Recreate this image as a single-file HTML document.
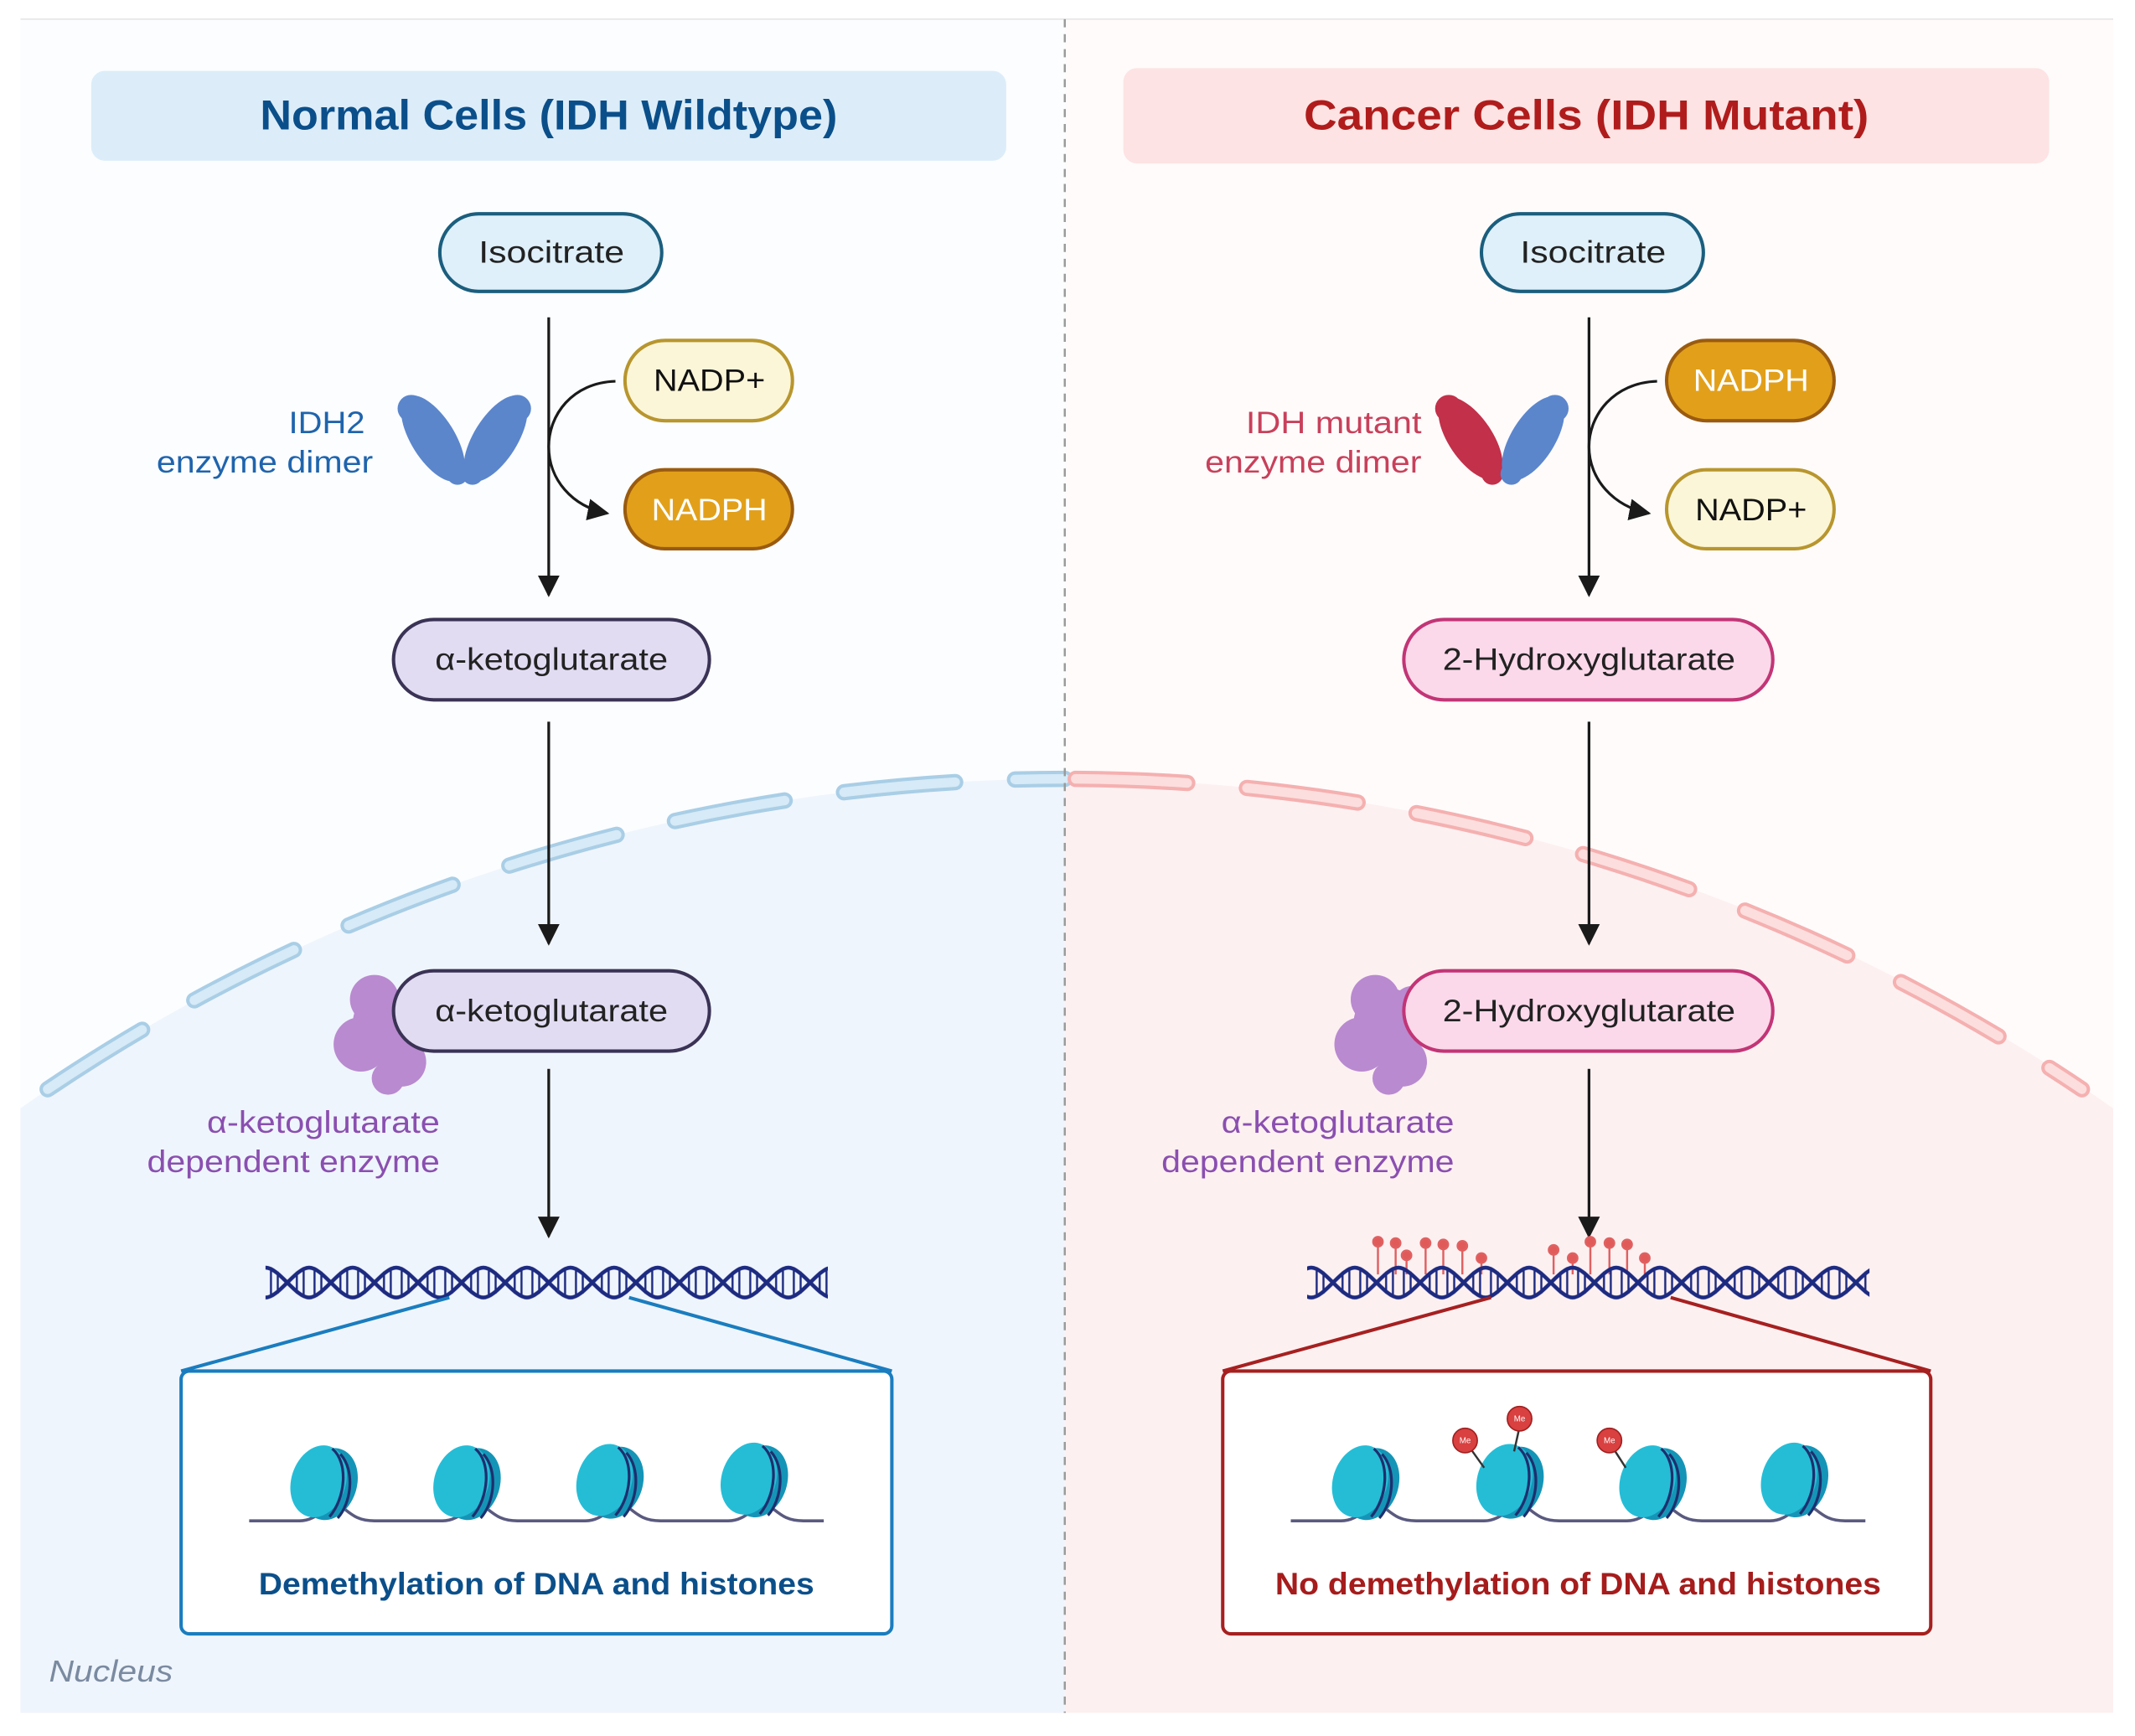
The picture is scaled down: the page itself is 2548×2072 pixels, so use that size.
<!DOCTYPE html>
<html><head><meta charset="utf-8"><style>html,body{margin:0;padding:0;background:#fff}svg{display:block}</style></head>
<body>
<svg width="2548" height="2072" viewBox="0 0 1568 1275" xmlns="http://www.w3.org/2000/svg" font-family="'Liberation Sans', sans-serif">
<defs>
<marker id="ah2" viewBox="0 0 10 10" refX="9" refY="5" markerWidth="16" markerHeight="16" markerUnits="userSpaceOnUse" orient="auto"><path d="M0,0 L10,5 L0,10 Z" fill="#1a1a1a"/></marker>
<pattern id="dna" patternUnits="userSpaceOnUse" x="195" y="927" width="64" height="30">
<g stroke="#1c2a80" fill="none">
<path d="M0,4 C10,4 22,26 32,26 C42,26 54,4 64,4" stroke-width="2.8"/>
<path d="M0,26 C10,26 22,4 32,4 C42,4 54,26 64,26" stroke-width="2.8"/>
<path d="M4,6 V24 M9,7 V23 M55,7 V23 M60,6 V24 M23,7 V23 M28,6 V24 M36,6 V24 M41,7 V23" stroke-width="1.5"/>
</g></pattern>
<g id="nuc">
<ellipse cx="8" cy="2" rx="20" ry="27" transform="rotate(18 8 2)" fill="#1495b7"/>
<ellipse cx="0" cy="0" rx="20" ry="27" transform="rotate(18 0 0)" fill="#25bdd6"/>
<path d="M10,-24 C22,-14 20,12 8,26" stroke="#1e2f6e" stroke-width="2" fill="none"/>
<path d="M16,-20 C27,-8 24,16 14,27" stroke="#1e2f6e" stroke-width="2" fill="none"/>
</g>
<g id="purp" fill="#b98ad0">
<circle cx="0" cy="0" r="26"/><circle cx="-20" cy="15" r="20"/><circle cx="10" cy="28" r="18"/><circle cx="-10" cy="-18" r="18"/><circle cx="18" cy="-12" r="16"/><circle cx="0" cy="40" r="12"/>
</g>
</defs>

<rect width="1568" height="1275" fill="#fff"/>
<rect x="15" y="14" width="767" height="1244" fill="#fbfdff"/>
<rect x="782" y="14" width="770" height="1244" fill="#fffbfb"/>
<line x1="15" y1="14" x2="1552" y2="14" stroke="#e6e6e6" stroke-width="1"/>
<path d="M15,1258 L15,814 A1338,1338 0 0 1 782,572 L782,1258 Z" fill="#eff5fc"/>
<path d="M782,572 A1338,1338 0 0 1 1552,814 L1552,1258 L782,1258 Z" fill="#fdf0f1"/>

<path d="M35,800 A1338,1338 0 0 1 782,572" fill="none" stroke="#a9cee6" stroke-width="12" stroke-dasharray="82 44" stroke-linecap="round"/>
<path d="M35,800 A1338,1338 0 0 1 782,572" fill="none" stroke="#d6eaf7" stroke-width="7" stroke-dasharray="82 44" stroke-linecap="round"/>
<path d="M782,572 A1338,1338 0 0 1 1529,800" fill="none" stroke="#f5b0b0" stroke-width="12" stroke-dasharray="82 44" stroke-dashoffset="-8" stroke-linecap="round"/>
<path d="M782,572 A1338,1338 0 0 1 1529,800" fill="none" stroke="#fcdede" stroke-width="7" stroke-dasharray="82 44" stroke-dashoffset="-8" stroke-linecap="round"/>

<line x1="782" y1="14" x2="782" y2="1258" stroke="#9a9a9a" stroke-width="1.5" stroke-dasharray="6 5"/>

<rect x="67" y="52" width="672" height="66" rx="10" fill="#dcedf9"/>
<text x="403" y="95" text-anchor="middle" font-size="31" font-weight="bold" fill="#0b4f8a" textLength="424" lengthAdjust="spacingAndGlyphs">Normal Cells (IDH Wildtype)</text>
<rect x="825" y="50" width="680" height="70" rx="10" fill="#fde3e3"/>
<text x="1165" y="95" text-anchor="middle" font-size="31" font-weight="bold" fill="#b01c1c" textLength="415" lengthAdjust="spacingAndGlyphs">Cancer Cells (IDH Mutant)</text>

<!-- LEFT -->
<rect x="323" y="157" width="163" height="57" rx="28.5" fill="#dff0fa" stroke="#1b5e7e" stroke-width="2.5"/>
<text x="405" y="193" text-anchor="middle" font-size="23" fill="#222" textLength="107" lengthAdjust="spacingAndGlyphs">Isocitrate</text>
<line x1="403" y1="233" x2="403" y2="437" stroke="#1a1a1a" stroke-width="2" marker-end="url(#ah2)"/>
<rect x="459" y="250" width="123" height="59" rx="29.5" fill="#fcf6d8" stroke="#b8962e" stroke-width="2.5"/>
<text x="521" y="287" text-anchor="middle" font-size="23" fill="#111" textLength="82" lengthAdjust="spacingAndGlyphs">NADP+</text>
<rect x="459" y="345" width="123" height="58" rx="29" fill="#e2a01a" stroke="#9a5b10" stroke-width="2.5"/>
<text x="521" y="382" text-anchor="middle" font-size="23" fill="#fff" textLength="85" lengthAdjust="spacingAndGlyphs">NADPH</text>
<path d="M452,280 C420,281 403,305 403,328 C403,352 420,372 446,377" fill="none" stroke="#1a1a1a" stroke-width="2" marker-end="url(#ah2)"/>
<text x="268" y="318" text-anchor="end" font-size="23" fill="#1f64ad" textLength="56" lengthAdjust="spacingAndGlyphs">IDH2</text>
<text x="274" y="347" text-anchor="end" font-size="23" fill="#1f64ad" textLength="159" lengthAdjust="spacingAndGlyphs">enzyme dimer</text>
<g fill="#5b86cc">
<ellipse cx="318" cy="322" rx="16" ry="36" transform="rotate(-32 318 322)"/>
<ellipse cx="364" cy="322" rx="16" ry="36" transform="rotate(32 364 322)"/>
<circle cx="302" cy="300" r="10"/><circle cx="380" cy="300" r="10"/><circle cx="336" cy="348" r="8"/><circle cx="347" cy="348" r="8"/>
</g>
<rect x="289" y="455" width="232" height="59" rx="29.5" fill="#e2dcf3" stroke="#3b3355" stroke-width="2.5"/>
<text x="405" y="492" text-anchor="middle" font-size="23" fill="#222" textLength="171" lengthAdjust="spacingAndGlyphs">α-ketoglutarate</text>
<line x1="403" y1="530" x2="403" y2="693" stroke="#1a1a1a" stroke-width="2" marker-end="url(#ah2)"/>
<use href="#purp" x="285" y="752"/>
<rect x="289" y="713" width="232" height="59" rx="29.5" fill="#e2dcf3" stroke="#3b3355" stroke-width="2.5"/>
<text x="405" y="750" text-anchor="middle" font-size="23" fill="#222" textLength="171" lengthAdjust="spacingAndGlyphs">α-ketoglutarate</text>
<text x="323" y="832" text-anchor="end" font-size="23" fill="#8a4fb0" textLength="171" lengthAdjust="spacingAndGlyphs">α-ketoglutarate</text>
<text x="323" y="861" text-anchor="end" font-size="23" fill="#8a4fb0" textLength="215" lengthAdjust="spacingAndGlyphs">dependent enzyme</text>
<line x1="403" y1="785" x2="403" y2="908" stroke="#1a1a1a" stroke-width="2" marker-end="url(#ah2)"/>
<rect x="195" y="927" width="413" height="30" fill="url(#dna)"/>
<path d="M330,953 L133,1007 M462,953 L655,1007" stroke="#1a7dbf" stroke-width="2.5" fill="none"/>
<rect x="133" y="1007" width="522" height="193" rx="6" fill="#fff" stroke="#1a7dbf" stroke-width="2.5"/>
<path d="M183,1117 L220,1117 C235,1117 240,1102 250,1106 C258,1112 262,1117 275,1117 L325,1117 C340,1117 345,1102 355,1106 C363,1112 367,1117 380,1117 L430,1117 C445,1117 450,1102 460,1106 C468,1112 472,1117 485,1117 L535,1117 C550,1117 555,1102 565,1106 C573,1112 577,1117 590,1117 L605,1117" stroke="#5a5a80" stroke-width="2.2" fill="none"/>
<use href="#nuc" x="234" y="1088"/><use href="#nuc" x="339" y="1088"/><use href="#nuc" x="444" y="1087"/><use href="#nuc" x="550" y="1086"/>
<text x="394" y="1171" text-anchor="middle" font-size="23" font-weight="bold" fill="#0b4f8a" textLength="408" lengthAdjust="spacingAndGlyphs">Demethylation of DNA and histones</text>
<text x="36" y="1235" font-size="22" font-style="italic" fill="#7a8aa0" textLength="91" lengthAdjust="spacingAndGlyphs">Nucleus</text>

<!-- RIGHT -->
<rect x="1088" y="157" width="163" height="57" rx="28.5" fill="#dff0fa" stroke="#1b5e7e" stroke-width="2.5"/>
<text x="1170" y="193" text-anchor="middle" font-size="23" fill="#222" textLength="107" lengthAdjust="spacingAndGlyphs">Isocitrate</text>
<line x1="1167" y1="233" x2="1167" y2="437" stroke="#1a1a1a" stroke-width="2" marker-end="url(#ah2)"/>
<rect x="1224" y="250" width="123" height="59" rx="29.5" fill="#e2a01a" stroke="#9a5b10" stroke-width="2.5"/>
<text x="1286" y="287" text-anchor="middle" font-size="23" fill="#fff" textLength="85" lengthAdjust="spacingAndGlyphs">NADPH</text>
<rect x="1224" y="345" width="123" height="58" rx="29" fill="#fcf6d8" stroke="#b8962e" stroke-width="2.5"/>
<text x="1286" y="382" text-anchor="middle" font-size="23" fill="#111" textLength="82" lengthAdjust="spacingAndGlyphs">NADP+</text>
<path d="M1217,280 C1185,281 1167,305 1167,328 C1167,352 1185,372 1211,377" fill="none" stroke="#1a1a1a" stroke-width="2" marker-end="url(#ah2)"/>
<text x="1044" y="318" text-anchor="end" font-size="23" fill="#c8405a" textLength="129" lengthAdjust="spacingAndGlyphs">IDH mutant</text>
<text x="1044" y="347" text-anchor="end" font-size="23" fill="#c8405a" textLength="159" lengthAdjust="spacingAndGlyphs">enzyme dimer</text>
<g fill="#c2304a">
<ellipse cx="1080" cy="322" rx="16" ry="35" transform="rotate(-34 1080 322)"/>
<circle cx="1064" cy="300" r="10"/><circle cx="1096" cy="348" r="8"/>
</g>
<g fill="#5b86cc">
<ellipse cx="1126" cy="322" rx="16" ry="35" transform="rotate(32 1126 322)"/>
<circle cx="1142" cy="300" r="10"/><circle cx="1110" cy="348" r="8"/>
</g>
<rect x="1031" y="455" width="271" height="59" rx="29.5" fill="#fbd9ea" stroke="#c23576" stroke-width="2.5"/>
<text x="1167" y="492" text-anchor="middle" font-size="23" fill="#222" textLength="215" lengthAdjust="spacingAndGlyphs">2-Hydroxyglutarate</text>
<line x1="1167" y1="530" x2="1167" y2="693" stroke="#1a1a1a" stroke-width="2" marker-end="url(#ah2)"/>
<use href="#purp" x="1020" y="752"/>
<rect x="1031" y="713" width="271" height="59" rx="29.5" fill="#fbd9ea" stroke="#c23576" stroke-width="2.5"/>
<text x="1167" y="750" text-anchor="middle" font-size="23" fill="#222" textLength="215" lengthAdjust="spacingAndGlyphs">2-Hydroxyglutarate</text>
<text x="1068" y="832" text-anchor="end" font-size="23" fill="#8a4fb0" textLength="171" lengthAdjust="spacingAndGlyphs">α-ketoglutarate</text>
<text x="1068" y="861" text-anchor="end" font-size="23" fill="#8a4fb0" textLength="215" lengthAdjust="spacingAndGlyphs">dependent enzyme</text>
<line x1="1167" y1="785" x2="1167" y2="908" stroke="#1a1a1a" stroke-width="2" marker-end="url(#ah2)"/>
<g stroke="#e06060" stroke-width="1.5" fill="#e05a5a">
<line x1="1012" y1="912" x2="1012" y2="936"/><circle cx="1012" cy="912" r="3.5"/>
<line x1="1025" y1="913" x2="1025" y2="936"/><circle cx="1025" cy="913" r="3.5"/>
<line x1="1033" y1="922" x2="1033" y2="936"/><circle cx="1033" cy="922" r="3.5"/>
<line x1="1047" y1="913" x2="1047" y2="936"/><circle cx="1047" cy="913" r="3.5"/>
<line x1="1060" y1="914" x2="1060" y2="936"/><circle cx="1060" cy="914" r="3.5"/>
<line x1="1074" y1="915" x2="1074" y2="936"/><circle cx="1074" cy="915" r="3.5"/>
<line x1="1088" y1="924" x2="1088" y2="936"/><circle cx="1088" cy="924" r="3.5"/>
<line x1="1141" y1="918" x2="1141" y2="936"/><circle cx="1141" cy="918" r="3.5"/>
<line x1="1155" y1="924" x2="1155" y2="936"/><circle cx="1155" cy="924" r="3.5"/>
<line x1="1168" y1="912" x2="1168" y2="936"/><circle cx="1168" cy="912" r="3.5"/>
<line x1="1182" y1="913" x2="1182" y2="936"/><circle cx="1182" cy="913" r="3.5"/>
<line x1="1195" y1="914" x2="1195" y2="936"/><circle cx="1195" cy="914" r="3.5"/>
<line x1="1208" y1="924" x2="1208" y2="936"/><circle cx="1208" cy="924" r="3.5"/>
</g>
<rect x="960" y="927" width="413" height="30" fill="url(#dna)" transform="translate(0,0)"/>
<path d="M1095,953 L898,1007 M1227,953 L1418,1007" stroke="#a62020" stroke-width="2.5" fill="none"/>
<rect x="898" y="1007" width="520" height="193" rx="6" fill="#fff" stroke="#a62020" stroke-width="2.5"/>
<path d="M948,1117 L985,1117 C1000,1117 1005,1102 1015,1106 C1023,1112 1027,1117 1040,1117 L1090,1117 C1105,1117 1110,1102 1120,1106 C1128,1112 1132,1117 1145,1117 L1195,1117 C1210,1117 1215,1102 1225,1106 C1233,1112 1237,1117 1250,1117 L1300,1117 C1315,1117 1320,1102 1330,1106 C1338,1112 1342,1117 1355,1117 L1370,1117" stroke="#5a5a80" stroke-width="2.2" fill="none"/>
<use href="#nuc" x="999" y="1088"/><use href="#nuc" x="1105" y="1087"/><use href="#nuc" x="1210" y="1088"/><use href="#nuc" x="1314" y="1086"/>
<g stroke="#333" stroke-width="1.5">
<line x1="1080" y1="1064" x2="1090" y2="1078"/><line x1="1116" y1="1048" x2="1112" y2="1066"/><line x1="1185" y1="1064" x2="1194" y2="1078"/>
</g>
<g fill="#d94040" stroke="#a02020" stroke-width="1">
<circle cx="1076" cy="1058" r="9"/><circle cx="1116" cy="1042" r="9"/><circle cx="1182" cy="1058" r="9"/>
</g>
<g font-size="6" fill="#fff" text-anchor="middle">
<text x="1076" y="1060">Me</text><text x="1116" y="1044">Me</text><text x="1182" y="1060">Me</text>
</g>
<text x="1159" y="1171" text-anchor="middle" font-size="23" font-weight="bold" fill="#a61c1c" textLength="445" lengthAdjust="spacingAndGlyphs">No demethylation of DNA and histones</text>
</svg>
</body></html>
